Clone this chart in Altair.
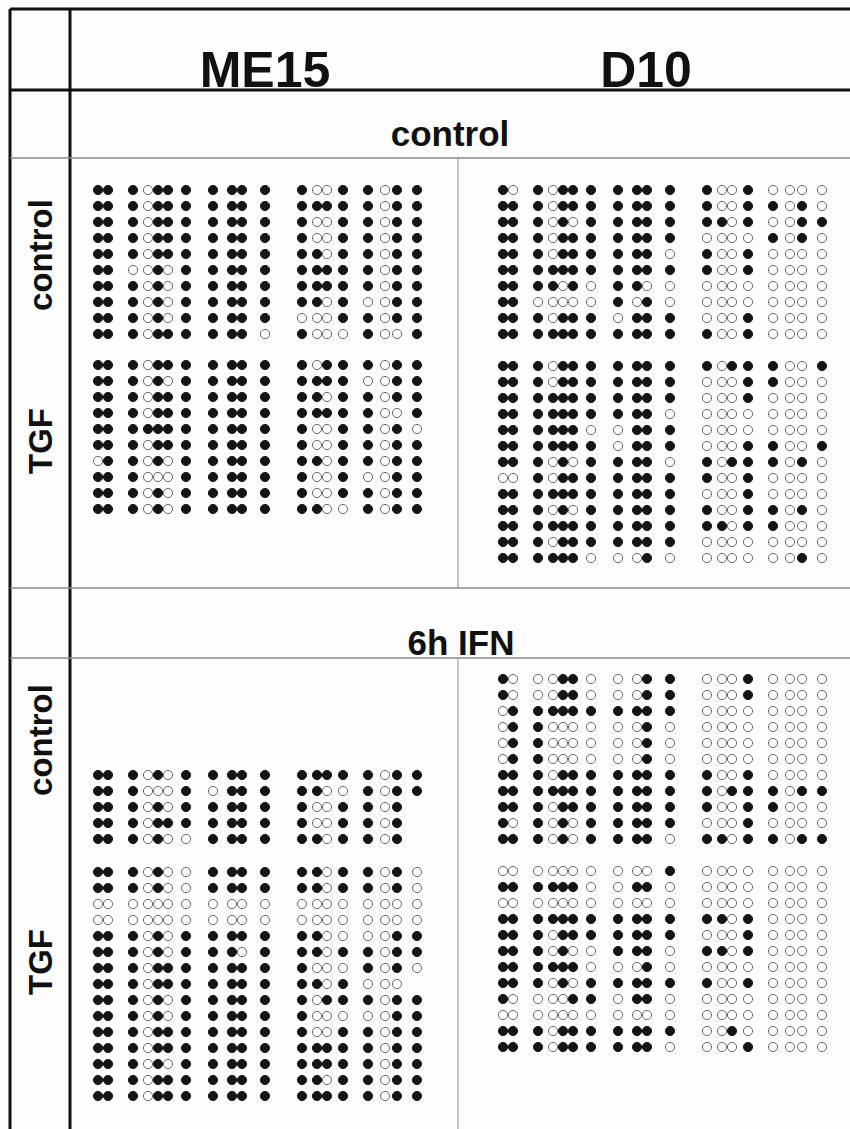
import altair as alt
import pandas as pd

W, H = 850, 1129

# CpG site positions (relative units along the amplicon)
cpg_sites = [0, 10, 35, 50, 60, 70, 88, 115, 134, 144, 167, 204, 219, 229, 245, 270, 287, 299, 319]

# 1 = methylated (filled), 0 = unmethylated (open), - = not determined
me15_ctrl_ctrl = [
    "11 10111 1111 1001 1011",
    "11 10111 1111 1111 1011",
    "11 10111 1111 1001 1011",
    "11 10111 1111 1001 1011",
    "11 10111 1111 1101 1011",
    "11 00101 1111 1111 1011",
    "11 10101 1111 1111 1011",
    "11 10101 1111 1101 0011",
    "11 10101 1111 0001 1011",
    "11 10111 1110 1000 1001",
]
me15_ctrl_tgf = [
    "11 10111 1111 1011 1011",
    "11 10101 1111 1111 0011",
    "11 10111 1111 1101 1011",
    "11 10111 1111 1111 1001",
    "11 11111 1111 1001 1010",
    "11 10111 1111 1001 1011",
    "01 10101 1111 1101 1011",
    "11 10001 1111 1001 0011",
    "11 10101 1111 1001 1011",
    "11 10101 1111 1100 1011",
]
d10_ctrl_ctrl = [
    "10 10111 1111 1001 0000",
    "11 10111 1111 1001 1010",
    "11 10101 1111 1101 0011",
    "11 10111 1111 0000 1010",
    "11 10111 1110 1001 0000",
    "11 11111 1111 1001 0000",
    "11 11010 1100 0000 0000",
    "11 00000 1010 0000 0000",
    "11 10111 0111 0001 0000",
    "11 11111 1111 1001 0000",
]
d10_ctrl_tgf = [
    "11 10111 1111 1011 1001",
    "11 10111 1111 0001 1000",
    "11 11111 1111 0001 0000",
    "11 11111 1110 0000 0000",
    "11 11110 0111 0000 0000",
    "11 11111 0111 0001 1001",
    "11 10101 1110 1011 1010",
    "00 10111 1111 1001 0000",
    "11 11111 1111 0001 0000",
    "11 10101 1111 1001 1010",
    "11 11111 1111 1101 1000",
    "11 10111 1111 0000 0000",
    "11 11110 0010 0000 0010",
]
me15_ifn_ctrl = [
    "11 10101 1111 1111 1011",
    "11 10001 0111 1100 1011",
    "11 10101 1111 1001 101-",
    "11 10111 1111 1001 101-",
    "11 10100 1111 1101 101-",
]
me15_ifn_tgf = [
    "11 10100 1111 1101 1010",
    "11 10100 1111 1101 1010",
    "00 00000 0000 0000 0000",
    "00 00000 0000 0000 0000",
    "11 10101 1111 1100 0011",
    "11 10101 1101 1101 1011",
    "11 10111 1111 1000 1010",
    "11 10111 1111 1101 000-",
    "11 10101 1111 1011 1011",
    "11 10101 1111 1000 0011",
    "11 10111 1111 1001 1011",
    "11 10111 1111 1111 1011",
    "11 10101 1111 1111 1011",
    "11 10111 1111 1101 1011",
    "11 10111 1111 1111 1011",
]
d10_ifn_ctrl = [
    "10 00110 0011 0001 0000",
    "10 00110 0011 0001 0000",
    "01 11111 1111 0000 0000",
    "01 10000 0010 0000 0000",
    "01 10000 0010 0000 0000",
    "01 10000 0010 0000 0000",
    "11 10111 1111 1001 0000",
    "11 11111 1111 1011 1011",
    "11 10111 1111 1001 1000",
    "10 10101 1111 0001 0000",
    "11 10101 1110 1101 1011",
]
d10_ifn_tgf = [
    "00 00000 0001 0000 0000",
    "11 11110 0110 0000 0000",
    "00 00000 0000 0000 0000",
    "11 11111 1111 1101 0000",
    "11 10111 1111 0001 0000",
    "11 10100 1110 1101 0000",
    "11 11110 0010 0000 0000",
    "11 10101 1111 1001 0000",
    "10 00011 0110 0000 0000",
    "00 00000 0000 0000 0000",
    "11 10111 1111 0010 0000",
    "11 10111 1110 0001 0000",
]

cell_lines = ["ME15", "D10"]
sections = ["control", "6h IFN"]
row_labels = ["control", "TGF"]

# ---- layout (pixels) ----
col_x0 = {"ME15": 98, "D10": 503}
row_gap = 16
blocks = [
    (me15_ctrl_ctrl, "ME15", 190, "top"),
    (me15_ctrl_tgf, "ME15", 365, "top"),
    (d10_ctrl_ctrl, "D10", 190, "top"),
    (d10_ctrl_tgf, "D10", 366, "top"),
    (me15_ifn_ctrl, "ME15", 839, "bottom"),
    (me15_ifn_tgf, "ME15", 872, "top"),
    (d10_ifn_ctrl, "D10", 839, "bottom"),
    (d10_ifn_tgf, "D10", 871, "top"),
]

recs = []
for rows, cl, anchor, mode in blocks:
    y0 = anchor if mode == "top" else anchor - row_gap * (len(rows) - 1)
    for r, s in enumerate(rows):
        s = s.replace(" ", "")
        for i, ch in enumerate(s):
            if ch == "-":
                continue
            recs.append({
                "x": col_x0[cl] + cpg_sites[i],
                "y": y0 + r * row_gap,
                "state": "methylated" if ch == "1" else "unmethylated",
            })
dots = pd.DataFrame(recs)

lines = pd.DataFrame([
    {"x": 10, "x2": W, "y": 9, "y2": 9, "c": "#111111", "w": 3},
    {"x": 10, "x2": 10, "y": 9, "y2": H, "c": "#111111", "w": 3},
    {"x": 70, "x2": 70, "y": 9, "y2": H, "c": "#111111", "w": 3},
    {"x": 10, "x2": W, "y": 90, "y2": 90, "c": "#111111", "w": 3},
    {"x": 10, "x2": W, "y": 158, "y2": 158, "c": "#888888", "w": 1.5},
    {"x": 10, "x2": W, "y": 588, "y2": 588, "c": "#888888", "w": 1.5},
    {"x": 10, "x2": W, "y": 658, "y2": 658, "c": "#888888", "w": 1.5},
    {"x": 458, "x2": 458, "y": 158, "y2": 588, "c": "#888888", "w": 1},
    {"x": 458, "x2": 458, "y": 658, "y2": H, "c": "#888888", "w": 1},
])

head = pd.DataFrame([
    {"x": 265, "y": 72, "t": cell_lines[0]},
    {"x": 646, "y": 72, "t": cell_lines[1]},
])
sect = pd.DataFrame([
    {"x": 450, "y": 135, "t": sections[0]},
    {"x": 461, "y": 644, "t": sections[1]},
])
side = pd.DataFrame([
    {"x": 42, "y": 255, "t": row_labels[0]},
    {"x": 42, "y": 441, "t": row_labels[1]},
    {"x": 42, "y": 740, "t": row_labels[0]},
    {"x": 42, "y": 962, "t": row_labels[1]},
])

xs = alt.Scale(domain=[0, W], range=[0, W])
ys = alt.Scale(domain=[0, H], range=[0, H])

rules = alt.Chart(lines).mark_rule().encode(
    x=alt.X("x:Q", scale=xs, axis=None),
    x2="x2:Q",
    y=alt.Y("y:Q", scale=ys, axis=None),
    y2="y2:Q",
    color=alt.Color("c:N", scale=None),
    strokeWidth=alt.StrokeWidth("w:Q", scale=None),
)

pts = alt.Chart(dots).mark_point(shape="circle", filled=True, size=84, strokeWidth=1, opacity=1).encode(
    x=alt.X("x:Q", scale=xs, axis=None),
    y=alt.Y("y:Q", scale=ys, axis=None),
    fill=alt.Fill("state:N", scale=alt.Scale(domain=["methylated", "unmethylated"], range=["#151515", "#ffffff"]), legend=None),
    stroke=alt.Stroke("state:N", scale=alt.Scale(domain=["methylated", "unmethylated"], range=["#151515", "#6a6a6a"]), legend=None),
)

font = "Liberation Sans"
t_head = alt.Chart(head).mark_text(font=font, fontWeight="bold", fontSize=50, baseline="middle", align="center", color="#111").encode(
    x=alt.X("x:Q", scale=xs, axis=None), y=alt.Y("y:Q", scale=ys, axis=None), text="t:N")
t_sect = alt.Chart(sect).mark_text(font=font, fontWeight="bold", fontSize=35, baseline="middle", align="center", color="#111").encode(
    x=alt.X("x:Q", scale=xs, axis=None), y=alt.Y("y:Q", scale=ys, axis=None), text="t:N")
t_side = alt.Chart(side).mark_text(font=font, fontWeight="bold", fontSize=33, baseline="middle", align="center", angle=270, color="#111").encode(
    x=alt.X("x:Q", scale=xs, axis=None), y=alt.Y("y:Q", scale=ys, axis=None), text="t:N")

chart = alt.layer(rules, pts, t_head, t_sect, t_side).properties(
    width=W, height=H, padding=0, autosize=alt.AutoSizeParams(type="none"),
    background="#fdfdfd",
).configure_view(stroke=None)

chart.save("out.html", embed_options={"renderer": "svg", "actions": False})
